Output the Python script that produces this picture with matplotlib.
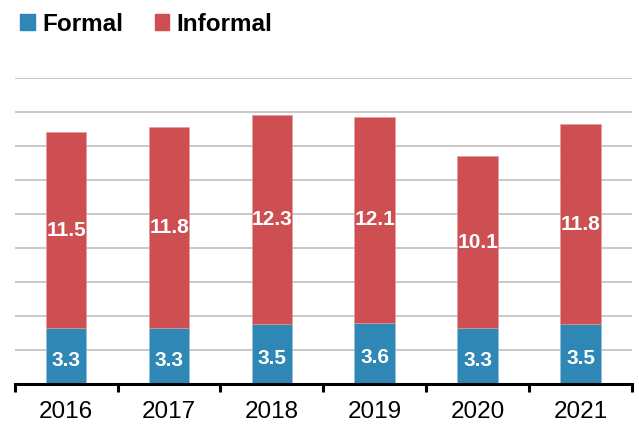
import matplotlib
matplotlib.use("Agg")
import matplotlib.pyplot as plt
import numpy as np
from matplotlib.patches import Patch

plt.rcParams['font.family'] = ['Liberation Sans', 'DejaVu Sans']

years = ["2016", "2017", "2018", "2019", "2020", "2021"]
formal = [3.3, 3.3, 3.5, 3.6, 3.3, 3.5]
informal = [11.5, 11.8, 12.3, 12.1, 10.1, 11.8]

c_formal = "#2E87B5"
c_informal = "#CD4F51"

fig = plt.figure(figsize=(6.39, 4.25), dpi=100)
ax = fig.add_axes([0.023, 0.0965, 0.966, 0.72])

x = np.arange(len(years))
w = 0.395
ax.bar(x, formal, w, color=c_formal, edgecolor="#8fc0dc", linewidth=0.4, zorder=3)
ax.bar(x, informal, w, bottom=formal, color=c_informal, edgecolor="#e49a9b", linewidth=0.4, zorder=3)

for xi, f, inf in zip(x, formal, informal):
    ax.text(xi, f / 2 - 0.25, f"{f:.1f}", ha="center", va="center", color="white",
            fontsize=15, fontweight="bold", zorder=4)
    ax.text(xi, f + inf / 2, f"{inf:.1f}", ha="center", va="center", color="white",
            fontsize=15, fontweight="bold", zorder=4)

ax.set_ylim(0, 18)
ax.set_xlim(-0.5, len(years) - 0.5)
ax.set_yticks(np.arange(2, 19, 2))
ax.yaxis.grid(True, color="#c4c4c4", linewidth=1.3, zorder=0)
ax.tick_params(axis="y", left=False, labelleft=False)
ax.set_xticks(x)
ax.set_xticklabels(years, fontsize=17.5)
ax.set_xticks(np.arange(-0.5, len(years), 1), minor=True)
ax.tick_params(axis="x", which="major", length=0, pad=12)
ax.tick_params(axis="x", which="minor", length=6, width=2.2, direction="out", color="black")
for s in ["top", "right", "left"]:
    ax.spines[s].set_visible(False)
ax.spines["bottom"].set_linewidth(2.2)
ax.spines["bottom"].set_zorder(5)

handles = [Patch(color=c_formal, label="Formal"), Patch(color=c_informal, label="Informal")]
fig.legend(handles=handles, loc="upper left", bbox_to_anchor=(0.005, 1.01), ncol=2, frameon=False,
           prop={"size": 17.5, "weight": "bold"}, handlelength=0.6, handleheight=0.6,
           handletextpad=0.3, columnspacing=1.3, borderaxespad=0.3)

fig.savefig("out.png", dpi=100)
